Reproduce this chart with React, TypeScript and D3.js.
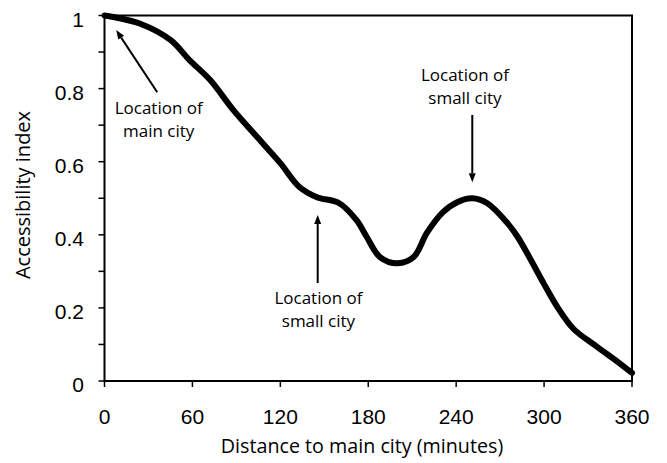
import React from "react";
import * as d3 from "d3";

const minutes = [0, 6, 24, 45, 58, 72, 88, 104, 120, 133, 145, 160, 172, 179, 188, 200, 211, 220, 231, 241, 251, 261, 275, 282, 291, 300, 309, 320, 336, 350, 360];
const accessibility = [1.0, 0.996, 0.978, 0.933, 0.878, 0.824, 0.741, 0.668, 0.596, 0.531, 0.503, 0.487, 0.44, 0.394, 0.339, 0.322, 0.339, 0.405, 0.462, 0.49, 0.5, 0.487, 0.432, 0.394, 0.331, 0.265, 0.203, 0.143, 0.094, 0.053, 0.022];
const xTicks = [0, 60, 120, 180, 240, 300, 360];
const yMinorTicks = [0, 0.1, 0.2, 0.3, 0.4, 0.5, 0.6, 0.7, 0.8, 0.9, 1];
const yLabelTicks = [0, 0.2, 0.4, 0.6, 0.8, 1];
const xTitle = "Distance to main city (minutes)";
const yTitle = "Accessibility index";

type Annot = { lines: string[]; tx: number; ty: number; from: [number, number]; to: [number, number] };
// annotation anchors in data units (minutes, index)
const annotations: Annot[] = [
  { lines: ["Location of", "main city"], tx: 37, ty: 0.73, from: [36, 0.79], to: [8, 0.96] },
  { lines: ["Location of", "small city"], tx: 146, ty: 0.21, from: [145.5, 0.268], to: [145.5, 0.454] },
  { lines: ["Location of", "small city"], tx: 246, ty: 0.82, from: [251, 0.728], to: [251, 0.544] },
];

const W = 667, H = 463;
const x = d3.scaleLinear().domain([0, 360]).range([104.5, 632]);
const y = d3.scaleLinear().domain([0, 1]).range([381, 15.5]);

const LABEL_FONT = "'Open Sans', 'Noto Sans', sans-serif";
const TICK_FONT = "'Liberation Sans', Arial, sans-serif";

function Arrow({ from, to }: { from: [number, number]; to: [number, number] }) {
  const x1 = x(from[0]), y1 = y(from[1]), x2 = x(to[0]), y2 = y(to[1]);
  const ang = Math.atan2(y2 - y1, x2 - x1);
  const len = 9, half = 3.5;
  const bx = x2 - len * Math.cos(ang), by = y2 - len * Math.sin(ang);
  const px = -Math.sin(ang) * half, py = Math.cos(ang) * half;
  return (
    <g>
      <line x1={x1} y1={y1} x2={bx} y2={by} stroke="#000" strokeWidth={2} />
      <path d={`M${x2},${y2}L${bx + px},${by + py}L${bx - px},${by - py}Z`} fill="#000" />
    </g>
  );
}

export default function App() {
  const line = d3
    .line<number>()
    .x((_, i) => x(minutes[i]))
    .y((d) => y(d))
    .curve(d3.curveCatmullRom.alpha(0.5));
  const path = line(accessibility) || "";

  return (
    <svg width={W} height={H} style={{ position: "absolute", left: 0, top: 0, background: "#fff" }}>
      <rect x={0} y={0} width={W} height={H} fill="#fff" />
      {/* plot frame */}
      <rect x={x(0)} y={y(1)} width={x(360) - x(0)} height={y(0) - y(1)} fill="none" stroke="#000" strokeWidth={2} />
      {/* y ticks */}
      {yMinorTicks.map((t) => (
        <line key={"yt" + t} x1={x(0) - 6} x2={x(0)} y1={y(t)} y2={y(t)} stroke="#000" strokeWidth={1.5} />
      ))}
      {yLabelTicks.map((t) => (
        <text key={"yl" + t} x={84} y={y(t) + 11} textAnchor="end" fontFamily={TICK_FONT} fontSize={21} fill="#000">
          {d3.format("~g")(t)}
        </text>
      ))}
      {/* x ticks */}
      {xTicks.map((t) => (
        <g key={"xt" + t}>
          <line x1={x(t)} x2={x(t)} y1={y(0)} y2={y(0) + 6} stroke="#000" strokeWidth={1.5} />
          <text x={x(t)} y={424} textAnchor="middle" fontFamily={TICK_FONT} fontSize={21} fill="#000">
            {t}
          </text>
        </g>
      ))}
      {/* axis titles */}
      <text x={362} y={453} textAnchor="middle" fontFamily={LABEL_FONT} fontSize={19.7} fill="#000">
        {xTitle}
      </text>
      <text
        transform={`translate(30,195) rotate(-90)`}
        textAnchor="middle"
        fontFamily={LABEL_FONT}
        fontSize={20}
        fill="#000"
      >
        {yTitle}
      </text>
      {/* curve */}
      <path d={path} fill="none" stroke="#000" strokeWidth={6} strokeLinejoin="round" strokeLinecap="round" />
      {/* annotations */}
      {annotations.map((a, i) => (
        <g key={"an" + i}>
          <Arrow from={a.from} to={a.to} />
          {a.lines.map((l, j) => (
            <text
              key={j}
              x={x(a.tx)}
              y={y(a.ty) + j * 23}
              textAnchor="middle"
              fontFamily={LABEL_FONT}
              fontSize={17}
              fill="#000"
            >
              {l}
            </text>
          ))}
        </g>
      ))}
    </svg>
  );
}
